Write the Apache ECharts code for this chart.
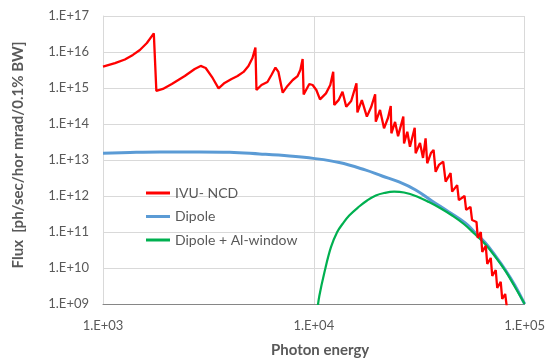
<!DOCTYPE html>
<html>
<head>
<meta charset="utf-8">
<script src="https://cdn.jsdelivr.net/npm/echarts@6/dist/echarts.min.js"></script>
<style>
  html, body { margin: 0; padding: 0; background: #fff; }
  #chart { width: 548px; height: 360px; }
</style>
</head>
<body>
<div id="chart"></div>
<script>
// IVU - NCD (undulator) spectrum
var ivuEnergy = [1000, 1140, 1270, 1386, 1496, 1615, 1742, 1791, 1923, 2120, 2443, 2723, 2906, 3070, 3311, 3533,
  3773, 4071, 4347, 4642, 4898, 5117, 5284, 5345, 5645, 6026, 6295, 6577, 6794, 7120, 7500, 7944, 8378, 8630, 8850,
  8950, 9520, 9870, 10280, 10700, 11420, 11970, 12360, 12500, 13100, 13680, 14250, 15040, 15930, 16100, 16900,
  17850, 18710, 19540, 19680, 20610, 21530, 22480, 23170, 23330, 24290, 25100, 26580, 26790, 27760, 28580, 30100,
  30410, 31890, 32960, 33900, 34510, 35940, 36990, 37830, 39200, 41100, 42200, 44540, 45300, 47860, 48750, 51870,
  52790, 55340, 56330, 59110, 59960, 61950, 62950, 65400, 66480, 69070, 70210, 72940, 74130, 77010, 78280, 80860, 82660];
var ivuFlux = [3.9e15, 4.9e15, 6.2e15, 8.3e15, 1.14e16, 1.78e16, 3.3e16, 8.3e14, 9.4e14, 1.29e15, 2.15e15, 3.37e15, 4.1e15, 3.6e15, 1.9e15, 9.8e14,
  1.38e15, 1.78e15, 2.15e15, 2.8e15, 4.1e15, 6.8e15, 1.33e16, 8.8e14, 1.21e15, 1.47e15, 2.3e15, 3.7e15, 2.8e15, 7.4e14, 1.14e15, 1.67e15, 2.15e15, 3.16e15, 6.4e15,
  6.6e14, 1.29e15, 1.21e15, 8.8e14, 4.85e14, 7.1e14, 1.21e15, 2.84e15, 3.4e14, 4.6e14, 7.9e14, 3.03e14, 4.35e14, 1.35e15, 2.1e14, 4.6e14,
  1.6e14, 2.96e14, 6.7e14, 1.16e14, 2.45e14, 7.6e13, 1.47e14, 3.16e14, 5.5e13, 1.14e14, 4.6e13, 1.6e14, 2.9e13, 6.1e13, 2.34e13, 7.9e13,
  1.54e13, 2.97e13, 1.14e13, 4.0e13, 8.1e12, 1.56e13, 1.9e13, 4.7e12, 7.3e12, 9.0e12, 2.5e12, 4.3e12, 1.32e12, 2.0e12, 7.7e11, 1.0e12,
  4.1e11, 5.0e11, 2.15e11, 1.9e11, 6.8e10, 1.0e11, 2.8e10, 4.1e10, 1.29e10, 1.9e10, 6.0e9, 8.8e9, 2.78e9, 4.1e9, 1.38e9, 1.9e9, 6.8e8];

// Dipole
var dipoleEnergy = [1000, 1342, 1860, 2874, 3985, 5525, 7660, 9945, 13200, 17520, 21080, 25370, 30420, 36330,
  43720, 52440, 58470, 65210, 72150, 81060, 89700, 100000];
var dipoleFlux = [1.54e13, 1.62e13, 1.67e13, 1.67e13, 1.64e13, 1.47e13, 1.29e13, 1.11e13, 8.5e12, 5.3e12, 3.6e12, 2.45e12, 1.47e12, 7.3e11,
  3.6e11, 1.75e11, 9.4e10, 4.95e10, 2.3e10, 8.8e9, 3.37e9, 1.0e9];

// Dipole + Al-window
var windowEnergy = [10390, 10620, 11210, 12060, 12910, 13680, 14720, 16410, 17900, 19690, 21540, 24030, 26790,
  30860, 35170, 40070, 45320, 51480, 58020, 65210, 72150, 81060, 89700, 100000];
var windowFlux = [6.8e8, 1.67e9, 7.3e9, 3.8e10, 1.0e11, 1.67e11, 2.87e11, 5.1e11, 7.5e11, 1.03e12, 1.21e12, 1.32e12, 1.25e12,
  9.7e11, 6.8e11, 4.5e11, 2.87e11, 1.67e11, 8.8e10, 4.5e10, 2.15e10, 8.3e9, 3.06e9, 1.0e9];

function pairs(xs, ys) {
  return xs.map(function (x, i) { return [x, ys[i]]; });
}

function expLabel(v) {
  var e = Math.round(Math.log(v) / Math.LN10);
  return '1.E+' + (e < 10 ? '0' : '') + e;
}

(function () {
  var myChart = echarts.init(document.getElementById('chart'));
  var textColor = '#595959';
  var font = 'Lato, "Open Sans", sans-serif';
  var option = {
    animation: false,
    backgroundColor: '#fff',
    textStyle: { fontFamily: font },
    grid: { left: 103, right: 22, top: 16, bottom: 56, containLabel: false },
    legend: {
      orient: 'vertical',
      left: 141,
      top: 181,
      icon: 'rect',
      itemWidth: 24,
      itemHeight: 3,
      itemGap: 9.5,
      textStyle: { color: textColor, fontSize: 14, fontFamily: font },
      data: ['IVU- NCD', 'Dipole', 'Dipole + Al-window']
    },
    xAxis: {
      type: 'log',
      logBase: 10,
      min: 1000,
      max: 100000,
      splitNumber: 2,
      axisLine: { show: true, lineStyle: { color: '#868686', width: 1 } },
      axisTick: { show: false },
      axisLabel: { color: textColor, fontSize: 13, margin: 15, formatter: expLabel },
      splitLine: { show: true, lineStyle: { color: '#d9d9d9', width: 1 } }
    },
    yAxis: {
      type: 'log',
      logBase: 10,
      min: 1e9,
      max: 1e17,
      splitNumber: 8,
      axisLine: { show: true, lineStyle: { color: '#d9d9d9', width: 1 } },
      axisTick: { show: false },
      axisLabel: { color: textColor, fontSize: 13, margin: 14, formatter: expLabel },
      splitLine: { show: true, lineStyle: { color: '#d9d9d9', width: 1 } }
    },
    graphic: [
      {
        type: 'text',
        left: 271,
        top: 343,
        style: { text: 'Photon energy', fill: textColor, font: 'bold 15px ' + font }
      },
      {
        type: 'text',
        x: 18,
        y: 155,
        rotation: Math.PI / 2,
        style: {
          text: 'Flux  [ph/sec/hor mrad/0.1% BW]',
          fill: textColor,
          font: 'bold 15px ' + font,
          align: 'center',
          verticalAlign: 'middle'
        }
      }
    ],
    series: [
      {
        name: 'IVU- NCD',
        type: 'line',
        symbol: 'none',
        clip: true,
        data: pairs(ivuEnergy, ivuFlux),
        lineStyle: { color: '#ff0000', width: 2.3 },
        itemStyle: { color: '#ff0000' },
        z: 3
      },
      {
        name: 'Dipole',
        type: 'line',
        symbol: 'none',
        smooth: 0.4,
        clip: true,
        data: pairs(dipoleEnergy, dipoleFlux),
        lineStyle: { color: '#5b9bd5', width: 3 },
        itemStyle: { color: '#5b9bd5' },
        z: 1
      },
      {
        name: 'Dipole + Al-window',
        type: 'line',
        symbol: 'none',
        smooth: 0.4,
        clip: true,
        data: pairs(windowEnergy, windowFlux),
        lineStyle: { color: '#00b050', width: 2.2 },
        itemStyle: { color: '#00b050' },
        z: 2
      }
    ]
  };
  myChart.setOption(option);
  window.addEventListener('resize', function () {
    myChart.resize();
  });
})();
</script>
</body>
</html>
